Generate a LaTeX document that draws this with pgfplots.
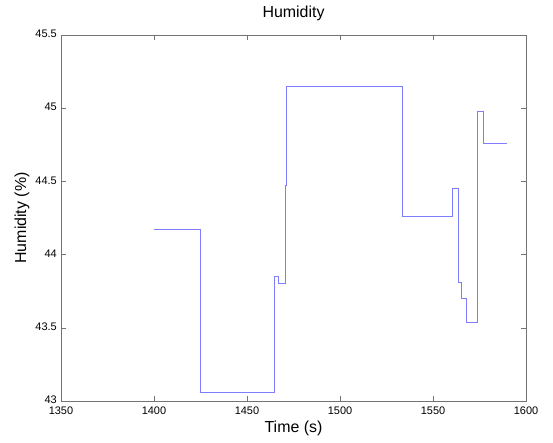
\documentclass[border=0pt]{standalone}
\usepackage{fontspec}
\setmainfont{Liberation Sans}
\usepackage{pgfplots}
\pgfplotsset{compat=1.18}
\definecolor{lineblue}{RGB}{125,125,255}
\begin{document}
\begin{tikzpicture}
\useasboundingbox (-61bp,-42bp) rectangle (492bp,401bp);
\begin{axis}[
  at={(0,0)}, anchor=south west,
  scale only axis,
  width=465bp, height=366bp,
  xmin=1350, xmax=1600, ymin=43, ymax=45.5,
  xtick={1350,1400,...,1600},
  ytick={43,43.5,...,45.5},
  /pgf/number format/assume math mode=true,
  /pgf/number format/set thousands separator={},
  tick label style={font=\fontsize{11}{12}\selectfont},
  xticklabel style={inner sep=1bp, yshift=-5bp},
  yticklabel style={/pgf/number format/fixed, inner sep=1bp, xshift=-3bp, yshift=1bp},
  tick align=inside,
  major tick length=5bp,
  axis line style={black!55},
  tick style={black!55, line width=0.5bp},
  title={Humidity},
  title style={at={(axis description cs:0.5,1.0437)}, anchor=center, font=\fontsize{16}{18}\selectfont},
  xlabel={Time (s)},
  xlabel style={at={(axis description cs:0.5,-0.0738)}, anchor=center, font=\fontsize{16}{18}\selectfont},
  ylabel={Humidity (\%)},
  ylabel style={at={(axis description cs:-0.0839,0.5)}, anchor=center, rotate=0, font=\fontsize{16}{18}\selectfont},
]
\addplot[const plot, color=lineblue, line width=0.8bp] coordinates {
(1400,44.17)
(1424.7,43.06)
(1464.5,43.85)
(1466.8,43.80)
(1470.4,43.98)
(1470.9,44.47)
(1471.2,44.93)
(1471.3,45.15)
(1533.7,44.26)
(1560.2,44.45)
(1563.6,43.81)
(1565.4,43.70)
(1568.1,43.54)
(1573.8,44.98)
(1577.0,44.76)
(1590.0,44.76)
};
\end{axis}
\end{tikzpicture}
\end{document}
